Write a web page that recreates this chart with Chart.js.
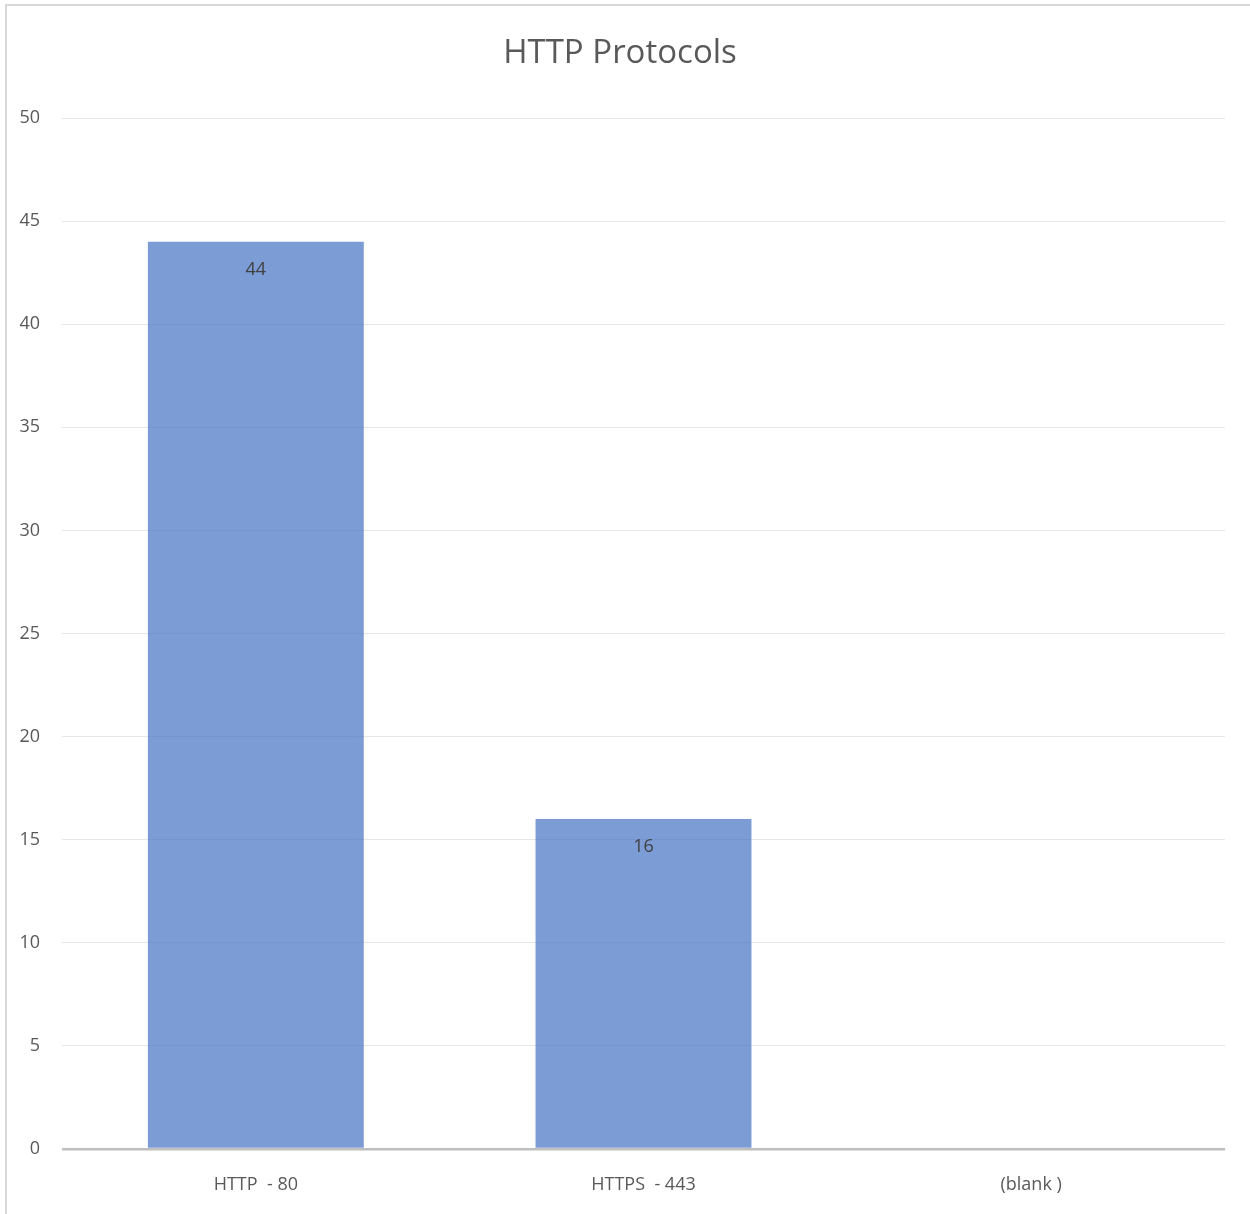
<!DOCTYPE html>
<html>
<head>
<meta charset="utf-8">
<script src="https://cdn.jsdelivr.net/npm/chart.js@4.4.1/dist/chart.umd.min.js"></script>
<style>
  html,body{margin:0;padding:0;background:#fff;overflow:hidden;}
  #wrap{position:relative;width:1250px;height:1214px;}
  #frame{position:absolute;left:5px;top:4px;width:1260px;height:1230px;border-left:2px solid #d9d9d9;border-top:2px solid #d9d9d9;box-sizing:border-box;}
  #title{position:absolute;left:0;width:1240px;top:28px;text-align:center;font:33px "Open Sans",sans-serif;color:#595959;}
  canvas{position:absolute;left:0;top:0;}
</style>
</head>
<body>
<div id="wrap">
  <div id="frame"></div>
  <canvas id="chart" width="1250" height="1214"></canvas>
  <div id="title">HTTP Protocols</div>
</div>
<script>
// categories and counts
const categories=["HTTP  - 80","HTTPS  - 443","(blank )"];
const counts=[44,16,null];
const yTicks=[0,5,10,15,20,25,30,35,40,45,50];

const FONT="'Open Sans', sans-serif";

// value labels drawn inside the top of each bar
const barLabels={
  id:"barLabels",
  afterDatasetsDraw(chart){
    const ctx=chart.ctx;
    const meta=chart.getDatasetMeta(0);
    ctx.save();
    ctx.font="18px "+FONT;
    ctx.fillStyle="#404040";
    ctx.textAlign="center";
    ctx.textBaseline="middle";
    meta.data.forEach((bar,i)=>{
      const v=counts[i];
      if(v==null) return;
      ctx.fillText(String(v),bar.x,bar.y+28);
    });
    ctx.restore();
  }
};

new Chart(document.getElementById("chart"),{
  type:"bar",
  data:{
    labels:categories,
    datasets:[{
      data:counts,
      backgroundColor:"rgba(68,114,196,0.7)",
      borderWidth:0,
      categoryPercentage:1,
      barPercentage:0.557
    }]
  },
  options:{
    responsive:false,
    animation:false,
    layout:{padding:{top:118,right:25,left:0,bottom:0}},
    plugins:{legend:{display:false},tooltip:{enabled:false},title:{display:false}},
    scales:{
      x:{
        grid:{display:false},
        border:{display:false},
        ticks:{font:{family:FONT,size:18},color:"#595959",padding:17,maxRotation:0},
        afterFit(s){s.height=65;s.paddingLeft=0;s.paddingRight=0;}
      },
      y:{
        min:0,max:50,
        afterBuildTicks(s){s.ticks=yTicks.map(v=>({value:v}));},
        grid:{
          drawTicks:false,
          color:c=>c.tick&&c.tick.value===0?"#bfbfbf":"#e6e6e6",
          lineWidth:c=>c.tick&&c.tick.value===0?2.5:1
        },
        border:{display:false},
        ticks:{font:{family:FONT,size:18},color:"#595959",padding:22},
        afterFit(s){s.width=62;s.paddingTop=0;s.paddingBottom=0;}
      }
    }
  },
  plugins:[barLabels]
});
</script>
</body>
</html>
